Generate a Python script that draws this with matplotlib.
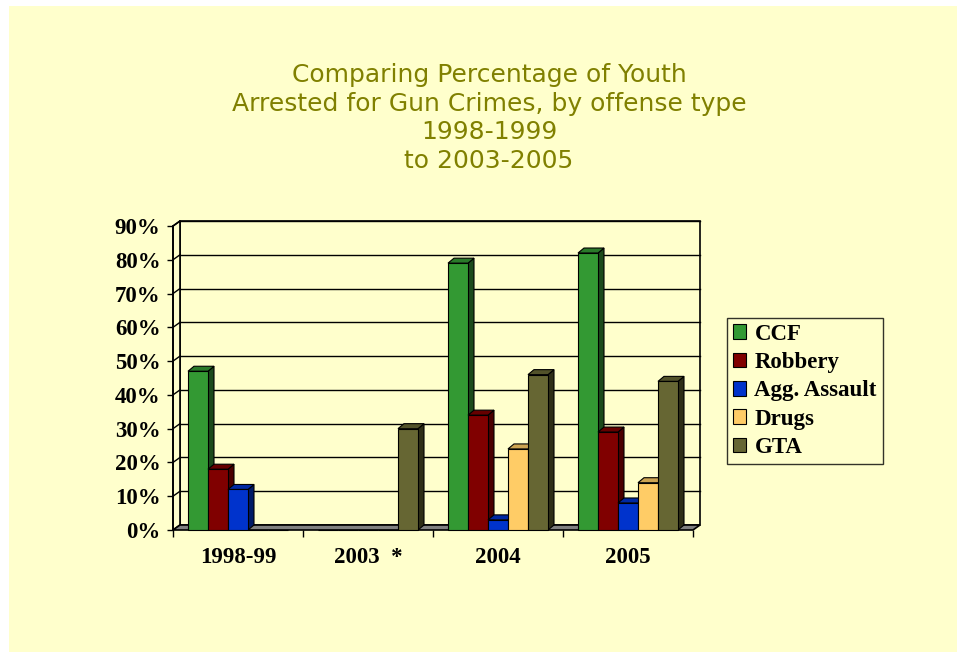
import matplotlib.pyplot as plt
import matplotlib.patches as patches
import numpy as np

# -------------------------- Data --------------------------
categories = ['1998-99', '2003  *', '2004', '2005']
series = ['CCF', 'Robbery', 'Agg. Assault', 'Drugs', 'GTA']
ccf = [47, 0, 79, 82]
robbery = [18, 0, 34, 29]
agg_assault = [12, 0, 3, 8]
drugs = [0, 0, 24, 14]
gta = [0, 30, 46, 44]
values = [ccf, robbery, agg_assault, drugs, gta]
ytick_labels = ['0%', '10%', '20%', '30%', '40%', '50%', '60%', '70%', '80%', '90%']

face_colors = ['#339933', '#800000', '#0033CC', '#FFCC66', '#666633']
side_colors = ['#1C4A1C', '#4A0000', '#001A66', '#B38F47', '#2E2E17']
top_colors = ['#2A7A2A', '#660000', '#0029A3', '#CCA352', '#52522A']

bg = '#FFFFCC'
title_col = '#808000'

# -------------------------- Figure --------------------------
W, H = 957, 652
fig = plt.figure(figsize=(W / 100, H / 100), dpi=100)
fig.patch.set_facecolor('white')
fig.patches.append(patches.Rectangle((9 / W, 0), 1, 1 - 6 / H, transform=fig.transFigure,
                                     facecolor=bg, edgecolor='none', zorder=-10))

fig.text(489 / W, 1 - 118 / H,
         'Comparing Percentage of Youth\nArrested for Gun Crimes, by offense type\n1998-1999\nto 2003-2005',
         ha='center', va='center', color=title_col, fontsize=18, family='DejaVu Sans',
         linespacing=1.25)

# front plane of the 3d chart
ax = fig.add_axes([173 / W, (H - 530) / H, 520 / W, 304 / H])
ax.set_facecolor('none')
ax.set_xlim(0, 4)
ax.set_ylim(0, 90)

dx = 7 / 130.0      # depth offset, category units
dy = 5 / 3.38       # depth offset, percent units

# back wall
ax.add_patch(patches.Rectangle((dx, dy), 4, 90, facecolor=bg, edgecolor='black',
                               lw=1.2, clip_on=False, zorder=1))
# left wall
ax.add_patch(patches.Polygon([(0, 0), (dx, dy), (dx, 90 + dy), (0, 90)], closed=True,
                             facecolor=bg, edgecolor='black', lw=1.2, clip_on=False, zorder=1))
# floor
ax.add_patch(patches.Polygon([(0, 0), (4, 0), (4 + dx, dy), (dx, dy)], closed=True,
                             facecolor='#808080', edgecolor='black', lw=1.2, clip_on=False, zorder=2))

# gridlines
for v in range(10, 91, 10):
    ax.plot([dx, 4 + dx], [v + dy, v + dy], color='black', lw=1.0, clip_on=False, zorder=1.5)
    ax.plot([0, dx], [v, v + dy], color='black', lw=1.0, clip_on=False, zorder=1.5)

# bars
n = len(series)
bw = 20 / 130.0
bd = 6 / 130.0
bh = 5 / 3.38
start = 15 / 130.0
x = np.arange(len(categories))
for i in range(n):
    xs = x + start + i * bw
    for xi, v in zip(xs, values[i]):
        if v <= 0:
            continue
        side = [(xi + bw, 0), (xi + bw + bd, bh), (xi + bw + bd, v + bh), (xi + bw, v)]
        top = [(xi, v), (xi + bd, v + bh), (xi + bw + bd, v + bh), (xi + bw, v)]
        ax.add_patch(patches.Polygon(side, closed=True, facecolor=side_colors[i],
                                     edgecolor='black', lw=0.8, clip_on=False, zorder=3 + i))
        ax.add_patch(patches.Polygon(top, closed=True, facecolor=top_colors[i],
                                     edgecolor='black', lw=0.8, clip_on=False, zorder=3 + i))
    ax.bar(xs, values[i], width=bw, align='edge', color=face_colors[i], edgecolor='black',
           lw=0.8, zorder=3 + i, label=series[i], clip_on=False)

# axes styling
for s in ['top', 'right', 'bottom']:
    ax.spines[s].set_visible(False)
ax.spines['left'].set_linewidth(1.2)
ax.set_yticks(range(0, 91, 10))
ax.set_yticklabels(ytick_labels, fontsize=16.5, fontweight='bold', family='Liberation Serif')
ax.set_xticks(np.arange(0, 5))
ax.set_xticklabels([])
ax.set_xticks(x + 0.5, minor=True)
ax.set_xticklabels(categories, minor=True, fontsize=16.5, fontweight='bold', family='Liberation Serif')
ax.tick_params(axis='x', which='major', length=5, direction='out', width=1)
ax.tick_params(axis='x', which='minor', length=0, pad=12)
ax.tick_params(axis='y', length=4, width=1, pad=5)

leg = ax.legend(loc='upper left', bbox_to_anchor=((727 - 173) / 520, (530 - 318) / 304),
                frameon=True, fancybox=False, edgecolor='black', facecolor=bg,
                prop={'family': 'Liberation Serif', 'weight': 'bold', 'size': 16.5},
                handlelength=0.6, handleheight=0.6, handletextpad=0.35,
                labelspacing=0.32, borderpad=0.25, borderaxespad=0)
leg.get_frame().set_linewidth(1.0)
leg.set_zorder(20)

fig.savefig('out.png', dpi=100, facecolor=fig.get_facecolor())
